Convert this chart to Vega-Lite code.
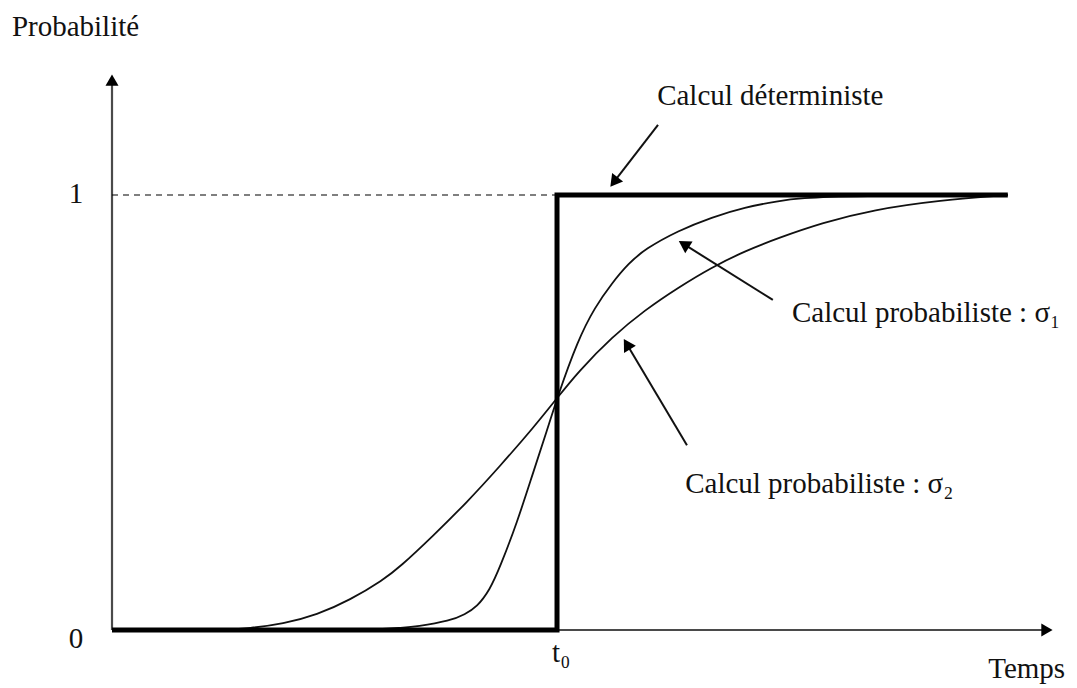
{
  "$schema": "https://vega.github.io/schema/vega-lite/v6.json",
  "width": 1077,
  "height": 688,
  "autosize": {"type": "none"},
  "padding": 0,
  "background": "white",
  "config": {"view": {"stroke": null}},
  "datasets": {
    "step": [
      {"t": 0, "p": 0, "o": 0},
      {"t": 1, "p": 0, "o": 1},
      {"t": 1, "p": 1, "o": 2},
      {"t": 2.013, "p": 1, "o": 3}
    ],
    "sigma1": [
      {"t": 0.49, "p": 0}, {"t": 0.602, "p": 0.001}, {"t": 0.647, "p": 0.005}, {"t": 0.685, "p": 0.008},
      {"t": 0.76, "p": 0.021}, {"t": 0.793, "p": 0.036}, {"t": 0.82, "p": 0.053}, {"t": 0.849, "p": 0.092},
      {"t": 0.872, "p": 0.145}, {"t": 0.91, "p": 0.246}, {"t": 0.946, "p": 0.361}, {"t": 0.978, "p": 0.46},
      {"t": 1.0, "p": 0.533}, {"t": 1.047, "p": 0.667}, {"t": 1.085, "p": 0.742}, {"t": 1.124, "p": 0.798},
      {"t": 1.16, "p": 0.842}, {"t": 1.198, "p": 0.876}, {"t": 1.272, "p": 0.918}, {"t": 1.348, "p": 0.949},
      {"t": 1.422, "p": 0.972}, {"t": 1.497, "p": 0.986}, {"t": 1.546, "p": 0.993}, {"t": 1.658, "p": 0.998},
      {"t": 2.013, "p": 1}
    ],
    "sigma2": [
      {"t": 0.243, "p": 0}, {"t": 0.31, "p": 0.004}, {"t": 0.384, "p": 0.014}, {"t": 0.461, "p": 0.035},
      {"t": 0.535, "p": 0.069}, {"t": 0.609, "p": 0.115}, {"t": 0.647, "p": 0.145}, {"t": 0.721, "p": 0.216},
      {"t": 0.798, "p": 0.294}, {"t": 0.872, "p": 0.377}, {"t": 0.946, "p": 0.464}, {"t": 1.0, "p": 0.533},
      {"t": 1.047, "p": 0.593}, {"t": 1.124, "p": 0.674}, {"t": 1.198, "p": 0.736}, {"t": 1.272, "p": 0.787},
      {"t": 1.348, "p": 0.834}, {"t": 1.422, "p": 0.871}, {"t": 1.497, "p": 0.901}, {"t": 1.596, "p": 0.936},
      {"t": 1.71, "p": 0.966}, {"t": 1.861, "p": 0.988}, {"t": 2.013, "p": 1}
    ],
    "axes": [
      {"t": 0, "p": 0, "t2": 0, "p2": 1.264},
      {"t": 0, "p": 0, "t2": 2.101, "p2": 0}
    ],
    "dash": [{"t": 0, "p": 1, "t2": 1, "p2": 1}],
    "arrows": [
      {"id": "det", "t": 1.227, "p": 1.161, "t2": 1.128, "p2": 1.03},
      {"id": "s1", "t": 1.485, "p": 0.759, "t2": 1.285, "p2": 0.887},
      {"id": "s2", "t": 1.292, "p": 0.425, "t2": 1.157, "p2": 0.657}
    ],
    "labelsLeft": [
      {"text": "Probabilité", "t": -0.225, "p": 1.366},
      {"text": "t₀", "t": 0.989, "p": -0.074},
      {"text": "Temps", "t": 1.969, "p": -0.11},
      {"text": "Calcul déterministe", "t": 1.225, "p": 1.207},
      {"text": "Calcul probabiliste : σ₁", "t": 1.528, "p": 0.708},
      {"text": "Calcul probabiliste : σ₂", "t": 1.288, "p": 0.315}
    ],
    "labelsCenter": [
      {"text": "1", "t": -0.081, "p": 0.982},
      {"text": "0", "t": -0.081, "p": -0.041}
    ]
  },
  "encoding": {
    "x": {"field": "t", "type": "quantitative", "scale": {"domain": [-0.2517, 2.1685], "nice": false, "zero": false}, "axis": null},
    "y": {"field": "p", "type": "quantitative", "scale": {"domain": [-0.1333, 1.4483], "nice": false, "zero": false}, "axis": null}
  },
  "layer": [
    {
      "data": {"name": "axes"},
      "mark": {"type": "rule", "color": "#4a4a4a", "strokeWidth": 2.2},
      "encoding": {"x2": {"field": "t2"}, "y2": {"field": "p2"}}
    },
    {
      "data": {"name": "axes"},
      "transform": [{"filter": "datum.t2 == 0"}],
      "mark": {"type": "point", "shape": "triangle-up", "filled": true, "color": "black", "size": 170, "opacity": 1},
      "encoding": {"x": {"field": "t2", "type": "quantitative"}, "y": {"field": "p2", "type": "quantitative"}}
    },
    {
      "data": {"name": "axes"},
      "transform": [{"filter": "datum.p2 == 0"}],
      "mark": {"type": "point", "shape": "triangle-right", "filled": true, "color": "black", "size": 170, "opacity": 1},
      "encoding": {"x": {"field": "t2", "type": "quantitative"}, "y": {"field": "p2", "type": "quantitative"}}
    },
    {
      "data": {"name": "dash"},
      "mark": {"type": "rule", "color": "black", "strokeWidth": 1.2, "strokeDash": [6, 5]},
      "encoding": {"x2": {"field": "t2"}, "y2": {"field": "p2"}}
    },
    {
      "data": {"name": "sigma2"},
      "mark": {"type": "line", "color": "#111", "strokeWidth": 1.8, "interpolate": "basis"},
      "encoding": {}
    },
    {
      "data": {"name": "sigma1"},
      "mark": {"type": "line", "color": "#111", "strokeWidth": 1.8, "interpolate": "basis"},
      "encoding": {}
    },
    {
      "data": {"name": "step"},
      "mark": {"type": "line", "color": "black", "strokeWidth": 5, "strokeJoin": "miter", "strokeCap": "butt"},
      "encoding": {"order": {"field": "o", "type": "quantitative"}}
    },
    {
      "data": {"name": "arrows"},
      "mark": {"type": "rule", "color": "#111", "strokeWidth": 2},
      "encoding": {"x2": {"field": "t2"}, "y2": {"field": "p2"}}
    },
    {
      "data": {"name": "arrows"},
      "transform": [{"filter": "datum.id == 'det'"}],
      "mark": {"type": "point", "shape": "triangle-up", "filled": true, "color": "black", "size": 190, "opacity": 1, "angle": 217.3},
      "encoding": {"x": {"field": "t2", "type": "quantitative"}, "y": {"field": "p2", "type": "quantitative"}}
    },
    {
      "data": {"name": "arrows"},
      "transform": [{"filter": "datum.id == 's1'"}],
      "mark": {"type": "point", "shape": "triangle-up", "filled": true, "color": "black", "size": 190, "opacity": 1, "angle": 302.3},
      "encoding": {"x": {"field": "t2", "type": "quantitative"}, "y": {"field": "p2", "type": "quantitative"}}
    },
    {
      "data": {"name": "arrows"},
      "transform": [{"filter": "datum.id == 's2'"}],
      "mark": {"type": "point", "shape": "triangle-up", "filled": true, "color": "black", "size": 190, "opacity": 1, "angle": 329.1},
      "encoding": {"x": {"field": "t2", "type": "quantitative"}, "y": {"field": "p2", "type": "quantitative"}}
    },
    {
      "data": {"name": "labelsLeft"},
      "mark": {"type": "text", "font": "Liberation Serif", "fontSize": 29, "color": "#111", "baseline": "alphabetic", "align": "left"},
      "encoding": {"text": {"field": "text"}}
    },
    {
      "data": {"name": "labelsCenter"},
      "mark": {"type": "text", "font": "Liberation Serif", "fontSize": 29, "color": "#111", "baseline": "alphabetic", "align": "center"},
      "encoding": {"text": {"field": "text"}}
    }
  ]
}
